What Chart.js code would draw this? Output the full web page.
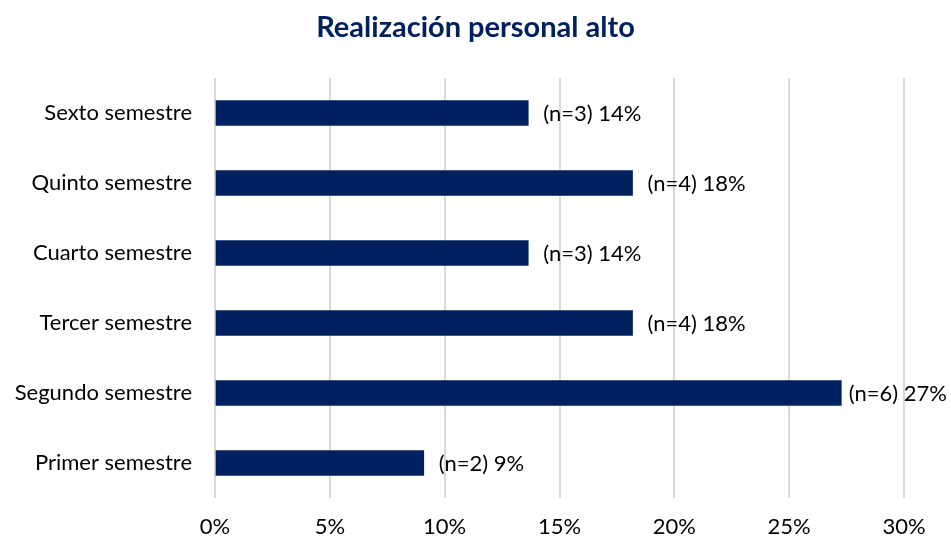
<!DOCTYPE html>
<html>
<head>
<meta charset="utf-8">
<script src="https://cdn.jsdelivr.net/npm/chart.js@4"></script>
<style>
  html, body { margin: 0; padding: 0; background: #fff; }
  #wrap { width: 951px; height: 541px; position: relative; }
</style>
</head>
<body>
<div id="wrap"><canvas id="chart"></canvas></div>
<script>
// data
const semesters = ['Sexto semestre', 'Quinto semestre', 'Cuarto semestre', 'Tercer semestre', 'Segundo semestre', 'Primer semestre']
const counts = [3, 4, 3, 4, 6, 2]
const percents = [13.64, 18.18, 13.64, 18.18, 27.27, 9.09]
const xTicks = [0, 5, 10, 15, 20, 25, 30]
const titleText = 'Realización personal alto'

const FONT = 'Lato, "Open Sans", sans-serif'

// title centred on the whole canvas (built-in one centres on the padded box)
const pageTitle = {
  id: 'pageTitle',
  afterDraw(chart) {
    const ctx = chart.ctx
    ctx.save()
    ctx.font = 'bold 29px ' + FONT
    ctx.fillStyle = '#002060'
    ctx.textAlign = 'center'
    ctx.textBaseline = 'middle'
    ctx.fillText(titleText, chart.width / 2, 28)
    ctx.restore()
  }
}

// draws "(n=3) 14%" after each bar, kept inside the canvas
const barLabels = {
  id: 'barLabels',
  afterDatasetsDraw(chart) {
    const ctx = chart.ctx
    const meta = chart.getDatasetMeta(0)
    ctx.save()
    ctx.font = '22px ' + FONT
    ctx.fillStyle = '#000'
    ctx.textBaseline = 'middle'
    ctx.textAlign = 'left'
    meta.data.forEach((bar, i) => {
      const text = `(n=${counts[i]}) ${Math.round(percents[i])}%`
      const w = ctx.measureText(text).width
      const x = Math.min(bar.x + 15, chart.width - 4 - w)
      ctx.fillText(text, x, bar.y + 1)
    })
    ctx.restore()
  }
}

new Chart(document.getElementById('chart'), {
  type: 'bar',
  data: {
    labels: semesters,
    datasets: [{
      data: percents,
      backgroundColor: '#002060',
      barThickness: 25
    }]
  },
  options: {
    indexAxis: 'y',
    responsive: true,
    maintainAspectRatio: false,
    animation: false,
    layout: { padding: { left: 0, right: 47, top: 78, bottom: 0 } },
    plugins: {
      legend: { display: false },
      tooltip: { enabled: false },
      title: { display: false }
    },
    scales: {
      x: {
        min: 0,
        max: 30,
        afterBuildTicks: (axis) => { axis.ticks = xTicks.map(v => ({ value: v })) },
        ticks: {
          callback: (v) => v + '%',
          color: '#000',
          font: { family: FONT, size: 22 },
          padding: 16
        },
        grid: { color: '#d9d9d9', lineWidth: 2, drawTicks: false },
        border: { display: false },
        afterFit: (axis) => { axis.height = 43 }
      },
      y: {
        ticks: {
          color: '#000',
          font: { family: FONT, size: 22 },
          padding: 23
        },
        grid: { display: false, drawTicks: false },
        border: { display: false },
        afterFit: (axis) => { axis.width = 215 }
      }
    }
  },
  plugins: [barLabels, pageTitle]
})
</script>
</body>
</html>
